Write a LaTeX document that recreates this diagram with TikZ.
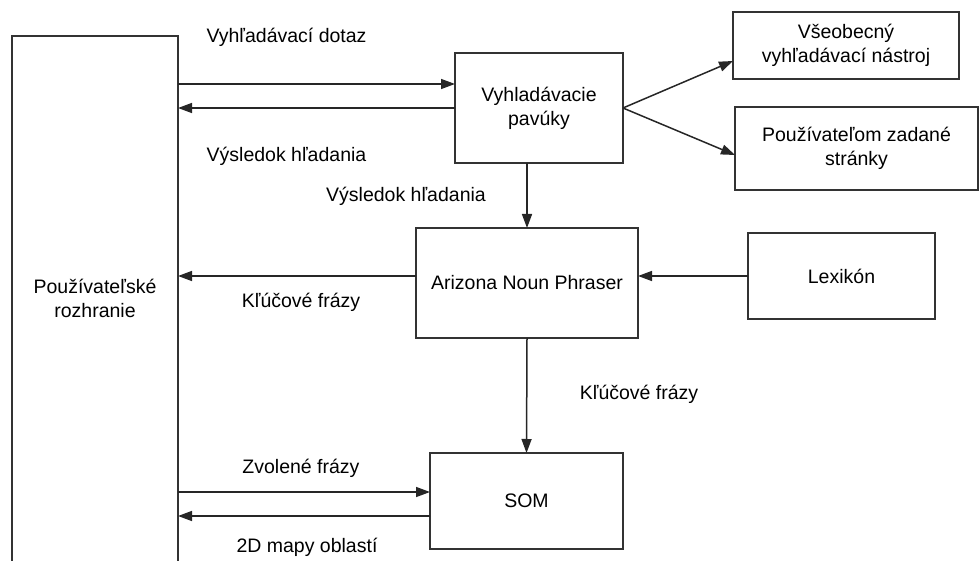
\documentclass[tikz,border=0pt]{standalone}
\usepackage{fontspec}
\setmainfont{Liberation Sans}
\usetikzlibrary{arrows.meta}

\tikzset{
  box/.style={draw=black!80, line width=1.5pt, rectangle, align=center,
    inner sep=0pt, outer sep=0pt},
  arr/.style={draw=black!85, line width=1.5pt,
    -{Triangle[length=14pt,width=10pt]}},
  lbl/.style={inner sep=0pt, anchor=center},
  frame/.style={draw=black!80, line width=1.5pt}
}

\begin{document}
\begin{tikzpicture}[x=1pt,y=-1pt,font=\fontsize{19.5}{24}\selectfont]
\useasboundingbox (0,0) rectangle (979,561);

% user interface column, open at the bottom
\node[rectangle, inner sep=0pt, outer sep=0pt, minimum width=166pt,
  minimum height=525pt, align=center] (ui) at (95,298.5)
  {Používateľské\\rozhranie};
\draw[frame] (ui.south west) -- (ui.north west) -- (ui.north east) -- (ui.south east);

% blocks
\node[box, minimum width=168pt, minimum height=110pt] (spid) at (539,108)
  {Vyhladávacie\\pavúky};
\node[box, minimum width=226pt, minimum height=67pt] (gen) at (846,45.5)
  {Všeobecný\\vyhľadávací nástroj};
\node[box, minimum width=243pt, minimum height=83pt] (user) at (856.5,148.5)
  {Používateľom zadané\\stránky};
\node[box, minimum width=222pt, minimum height=110pt] (anp) at (527,283)
  {Arizona Noun Phraser};
\node[box, minimum width=187pt, minimum height=86pt] (lex) at (841.5,276)
  {Lexikón};
\node[box, minimum width=193pt, minimum height=96pt] (som) at (526.5,501)
  {SOM};

% attachment points
\coordinate (q1) at ([yshift=24pt]spid.west);
\coordinate (qg) at ([yshift=-15.5pt]gen.west);
\coordinate (qu) at ([yshift=-6.5pt]user.west);
\coordinate (q2) at ([yshift=9pt]som.west);
\coordinate (q3) at ([yshift=-15pt]som.west);

% connectors
\draw[arr] (ui.east |- q1) -- (q1);
\draw[arr] (spid.west) -- (ui.east |- spid.west);
\draw[arr] (spid.east) -- (qg);
\draw[arr] (spid.east) -- (qu);
\draw[arr] (spid.south -| anp.north) -- (anp.north);
\draw[arr] (lex.west) -- (anp.east |- lex.west);
\draw[arr] (anp.west |- lex.west) -- (ui.east |- lex.west);
\draw[arr] (anp.south) -- (som.north);
\draw[arr] (ui.east |- q2) -- (q2);
\draw[arr] (q3) -- (ui.east |- q3);

% labels
\node[lbl] (l1) at (286.5,37) {Vyhľadávací dotaz};
\node[lbl] (l2) at (286.5,156) {Výsledok hľadania};
\node[lbl] (l3) at (406,196) {Výsledok hľadania};
\node[lbl] (l4) at (301,302) {Kľúčové frázy};
\node[lbl] (l5) at (639,394) {Kľúčové frázy};
\node[lbl] (l6) at (301,468) {Zvolené frázy};
\node[lbl] (l7) at (307,547) {2D mapy oblastí};
\end{tikzpicture}
\end{document}
